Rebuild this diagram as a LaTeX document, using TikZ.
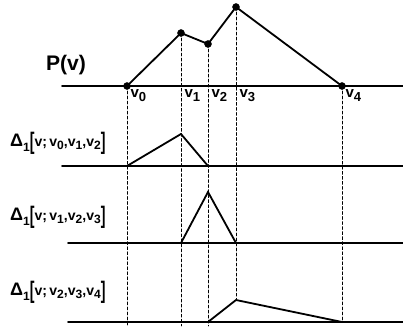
\documentclass[tikz,border=0pt]{standalone}
\usepackage{fontspec}
\setmainfont{Liberation Sans}
\usepackage{tikz}
\usetikzlibrary{calc}
\usepackage{tkz-euclide}

\newcommand{\vx}[2][11]{v\raisebox{-0.45ex}{\fontsize{#1}{#1}\selectfont #2}}
\newcommand{\tallbr}[1]{\raisebox{-0.4ex}{\scalebox{1}[1.7]{#1}}}
\newcommand{\dlab}[3]{{\fontsize{18}{20}\selectfont Δ\raisebox{-0.55ex}{\fontsize{12}{12}\selectfont 1}}{\fontsize{14}{15}\selectfont\tallbr{[}v;\,\vx[12]{#1},\vx[12]{#2},\vx[12]{#3}\tallbr{]}}}

\begin{document}
\begin{tikzpicture}[scale=0.35, every node/.style={font=\bfseries}]
            \useasboundingbox (0,0) rectangle (40.3,32.6);
            \tkzDefPoints{6.2/24/L0, 40.3/24/R0, 12.7/24/V0, 18.1/29.3/V1, 20.8/28.2/V2, 23.6/31.9/V3, 34.2/24/V4}
            \tkzDefPoints{6.2/16/L1, 40.3/16/R1, 12.7/16/A0, 18.1/19.2/A1, 20.8/16/A2}
            \tkzDefPoints{6.8/8.3/L2, 40.3/8.3/R2, 18.1/8.3/B1, 20.8/13.4/B2, 23.6/8.3/B3}
            \tkzDefPoints{6.8/0.4/L3, 40.3/0.4/R3, 20.8/0.4/C2, 23.6/2.6/C3, 34.2/0.4/C4}
            \tkzDefPoints{12.7/0/F0, 18.1/0/F1, 20.8/0/F2}
            \tkzDrawSegments[black, line width=0.6pt, dash pattern=on 3pt off 2pt](V0,F0 V1,F1 V2,F2 V3,C3 V4,C4)
            \tkzDrawSegments[black, line width=1.8pt](L0,R0 L1,R1 L2,R2 L3,R3)
            \tkzDrawPolySeg[black, line width=1.8pt](V0,V1,V2,V3,V4)
            \tkzDrawPolySeg[black, line width=1.8pt](A0,A1,A2)
            \tkzDrawPolySeg[black, line width=1.8pt](B1,B2,B3)
            \tkzDrawPolySeg[black, line width=1.8pt](C2,C3,C4)
            \tkzDrawPoints[size=7, black, fill=black](V0,V1,V2,V3,V4)
            \tkzLabelPoint[below right, font=\bfseries\fontsize{15}{16}\selectfont](V0){\vx[13]{0}}
            \tkzLabelPoint[below right, font=\bfseries\fontsize{15}{16}\selectfont](V1|-V0){\vx[13]{1}}
            \tkzLabelPoint[below right, font=\bfseries\fontsize{15}{16}\selectfont](V2|-V0){\vx[13]{2}}
            \tkzLabelPoint[below right, font=\bfseries\fontsize{15}{16}\selectfont](V3|-V0){\vx[13]{3}}
            \tkzLabelPoint[below right, font=\bfseries\fontsize{15}{16}\selectfont](V4){\vx[13]{4}}
            \node[font=\bfseries\fontsize{21}{24}\selectfont] (plab) at (6.6,26.1) {P(v)};
            \node[anchor=west, inner sep=0pt] (dlab1) at (1.0,18.3) {\dlab{0}{1}{2}};
            \node[anchor=west, inner sep=0pt] (dlab2) at (1.0,10.9) {\dlab{1}{2}{3}};
            \node[anchor=west, inner sep=0pt] (dlab3) at (1.0,3.4) {\dlab{2}{3}{4}};
            %\tkzLabelPoints[above](V1,V2,V3)
        \end{tikzpicture}
\end{document}
